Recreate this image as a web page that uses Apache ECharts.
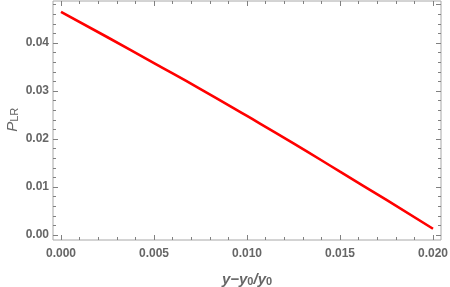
<!DOCTYPE html>
<html><head><meta charset="utf-8">
<script src="https://cdn.jsdelivr.net/npm/echarts@6/dist/echarts.min.js"></script>
<style>html,body{margin:0;padding:0;background:#fff}#c{width:450px;height:287px}</style>
</head><body><div id="c"></div>
<script>
// data
const xValues = [0, 0.0025, 0.005, 0.0075, 0.010, 0.0125, 0.015, 0.0175, 0.020];
const pLR = [0.0465, 0.0412, 0.0358, 0.0304, 0.0248, 0.0191, 0.0132, 0.0073, 0.0013];
const xRange = [0, 0.020];
const xMajorStep = 0.005, xMinorStep = 0.001;
const yRange = [0, 0.048];
const yMajorStep = 0.01, yMinorStep = 0.002;

const frame = '#a8a8a8';
const tickColor = '#808080';
const labelColor = '#666666';
const font = 'Liberation Sans, Arial, sans-serif';

function xAx(pos, step, len, offset, withLabel) {
  return {
    type: 'value', gridIndex: 0, position: pos, offset: offset,
    min: xRange[0], max: xRange[1], interval: step,
    axisLine: {show: false, onZero: false},
    splitLine: {show: false},
    axisTick: {show: true, inside: true, length: len, lineStyle: {color: tickColor, width: 1}},
    axisLabel: withLabel ? {show: true, margin: 8, color: labelColor, fontFamily: font, fontSize: 12, fontWeight: 'bold', formatter: v => v.toFixed(3)} : {show: false}
  };
}
function yAx(pos, step, len, offset, withLabel) {
  return {
    type: 'value', gridIndex: 0, position: pos, offset: offset,
    min: yRange[0], max: yRange[1], interval: step,
    axisLine: {show: false, onZero: false},
    splitLine: {show: false},
    axisTick: {show: true, inside: true, length: len, lineStyle: {color: tickColor, width: 1}},
    axisLabel: withLabel ? {show: true, margin: 4, showMaxLabel: false, color: labelColor, fontFamily: font, fontSize: 12, fontWeight: 'bold', formatter: v => v.toFixed(2)} : {show: false}
  };
}

const xMain = xAx('bottom', xMajorStep, 5, 5, true);
xMain.name = '{i|y\u2212y}{s|0}{i|/y}{s|0}';
xMain.nameLocation = 'middle';
xMain.nameGap = 29;
xMain.nameMoveOverlap = false;
xMain.nameTextStyle = {rich: {
  i: {fontFamily: font, fontSize: 15, fontStyle: 'italic', fontWeight: 'bold', color: labelColor, verticalAlign: 'bottom', lineHeight: 18},
  s: {fontFamily: font, fontSize: 11, fontWeight: 'bold', color: labelColor, verticalAlign: 'bottom', lineHeight: 14}
}};
const yMain = yAx('left', yMajorStep, 5, 8, true);
yMain.name = '{i|P}{s|LR}';
yMain.nameLocation = 'middle';
yMain.nameGap = 33;
yMain.nameRotate = 90;
yMain.nameMoveOverlap = false;
yMain.nameTextStyle = {rich: {
  i: {fontFamily: font, fontSize: 15, fontStyle: 'italic', color: labelColor, verticalAlign: 'bottom', lineHeight: 18},
  s: {fontFamily: font, fontSize: 11, color: labelColor, verticalAlign: 'bottom', lineHeight: 14}
}};

const chart = echarts.init(document.getElementById('c'), null, {renderer: 'canvas'});
chart.setOption({
  animation: false,
  grid: [
    {left: 61, right: 17, top: 4.6, bottom: 52, outerBoundsMode: 'none'},
    {left: 53, right: 9, top: 1, bottom: 47, show: true, borderColor: frame, borderWidth: 1, outerBoundsMode: 'none', z: -1}
  ],
  xAxis: [
    xMain,
    xAx('bottom', xMinorStep, 3, 5, false),
    xAx('top', xMajorStep, 5, 3.6, false),
    xAx('top', xMinorStep, 3, 3.6, false),
    {type: 'value', gridIndex: 1, show: false, min: 0, max: 1}
  ],
  yAxis: [
    yMain,
    yAx('left', yMinorStep, 3, 8, false),
    yAx('right', yMajorStep, 5, 8, false),
    yAx('right', yMinorStep, 3, 8, false),
    {type: 'value', gridIndex: 1, show: false, min: 0, max: 1}
  ],
  series: [{
    type: 'line', xAxisIndex: 0, yAxisIndex: 0, smooth: true, showSymbol: false, clip: false,
    lineStyle: {color: '#ff0000', width: 2.6},
    data: xValues.map((x, i) => [x, pLR[i]])
  }]
});
</script></body></html>
